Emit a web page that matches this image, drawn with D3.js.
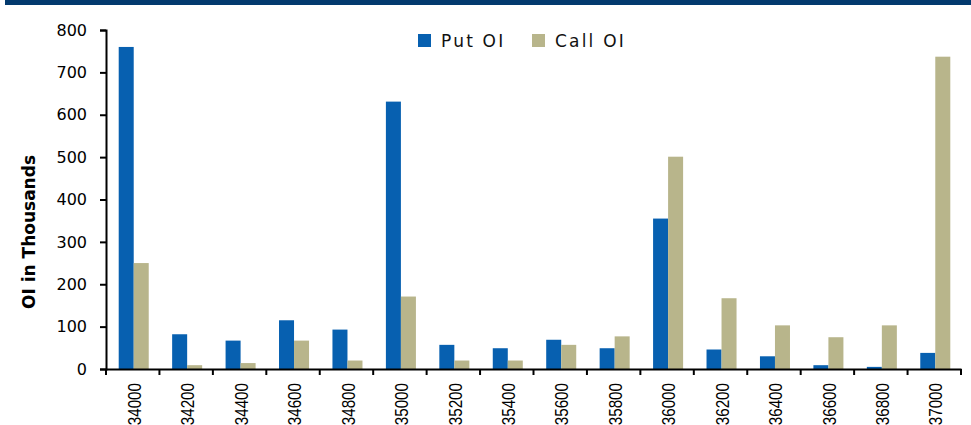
<!DOCTYPE html>
<html>
<head>
<meta charset="utf-8">
<script src="https://cdn.jsdelivr.net/npm/d3@7"></script>
<style>
  body { margin: 0; background: #fff; }
  svg { display: block; }
</style>
</head>
<body>
<svg id="chart" width="971" height="425"></svg>
<script>
// strikes on the x axis
var strikes = ["34000", "34200", "34400", "34600", "34800", "35000", "35200", "35400",
               "35600", "35800", "36000", "36200", "36400", "36600", "36800", "37000"]
// open interest, thousands
var putOI  = [760, 82, 67, 115, 93, 631, 57, 49, 69, 49, 355, 46, 30, 9, 5, 38]
var callOI = [250, 9, 14, 67, 20, 171, 20, 20, 57, 77, 501, 167, 103, 75, 103, 737]
var seriesNames = ["Put OI", "Call OI"]
var yTicks = [0, 100, 200, 300, 400, 500, 600, 700, 800]

var colors = { "Put OI": "#0760b0", "Call OI": "#b8b58b" }
var margin = { top: 30, left: 106, right: 10, bottom: 56 }
var width = 971, height = 425

var svg = d3.select("#chart")

// navy band across the top
svg.append("rect")
   .attr("x", 5).attr("y", 0)
   .attr("width", width - 5).attr("height", 5)
   .attr("fill", "#033a6e")

var rows = strikes.map((s, i) => ({ strike: s, "Put OI": putOI[i], "Call OI": callOI[i] }))

var xScale = d3.scaleBand().domain(strikes).range([margin.left, 961]).padding(0)
var xInner = d3.scaleBand().domain(seriesNames)
   .range([0, xScale.bandwidth()]).paddingInner(0).paddingOuter(0.78)
var yScale = d3.scaleLinear().domain([0, 800]).range([369, margin.top])

var g = svg.append("g")

g.selectAll("g.group")
   .data(rows)
   .join("g")
   .attr("class", "group")
   .attr("transform", d => "translate(" + (xScale(d.strike) + 1) + ",0)")
   .selectAll("rect")
   .data(d => seriesNames.map(k => ({ key: k, value: d[k] })))
   .join("rect")
   .attr("x", d => xInner(d.key))
   .attr("y", d => yScale(d.value))
   .attr("width", xInner.bandwidth())
   .attr("height", d => yScale(0) - yScale(d.value))
   .attr("fill", d => colors[d.key])

// y axis
var yAxis = d3.axisLeft(yScale).tickValues(yTicks).tickSize(6).tickPadding(13)
var yg = svg.append("g")
   .attr("transform", "translate(" + margin.left + ",0)")
   .call(yAxis)
yg.select(".domain").attr("stroke", "#000").attr("stroke-width", 2)
yg.selectAll(".tick line").attr("stroke", "#000").attr("stroke-width", 2)
yg.selectAll(".tick text")
   .attr("fill", "#000")
   .style("font-family", "'DejaVu Sans', sans-serif")
   .style("font-size", "16px")

// x axis, ticks on the band edges
var xAxis = d3.axisBottom(xScale).tickSize(0).tickPadding(0)
var xg = svg.append("g")
   .attr("transform", "translate(0,369)")
   .call(xAxis)
xg.select(".domain").attr("stroke", "#000").attr("stroke-width", 2)
xg.selectAll(".tick line").remove()
// narrow look: squeeze the rotated labels along their length
xg.selectAll(".tick text")
   .attr("fill", "#000")
   .attr("transform", "translate(1.5,0) rotate(-90) scale(0.8,1)")
   .attr("text-anchor", "end")
   .attr("x", -14 / 0.8)
   .attr("y", 0)
   .attr("dy", "0.35em")
   .style("font-family", "'Liberation Sans', Arial, sans-serif")
   .style("font-size", "19px")

xg.selectAll("line.edge")
   .data(strikes.concat(["end"]))
   .join("line")
   .attr("class", "edge")
   .attr("x1", (d, i) => i < strikes.length ? xScale(d) : xScale.range()[1])
   .attr("x2", (d, i) => i < strikes.length ? xScale(d) : xScale.range()[1])
   .attr("y1", 0).attr("y2", 6)
   .attr("stroke", "#000").attr("stroke-width", 2)

// axis title
svg.append("text")
   .attr("transform", "translate(35,232) rotate(-90)")
   .attr("text-anchor", "middle")
   .style("font-family", "'DejaVu Sans', sans-serif")
   .style("font-weight", "bold")
   .style("font-size", "17px")
   .text("OI in Thousands")

// legend
var legend = svg.append("g").attr("transform", "translate(418,34)")
var items = legend.selectAll("g")
   .data(seriesNames)
   .join("g")
   .attr("transform", (d, i) => "translate(" + (i * 114) + ",0)")
items.append("rect")
   .attr("width", 13).attr("height", 13)
   .attr("fill", d => colors[d])
items.append("text")
   .attr("x", 23).attr("y", 13)
   .style("font-family", "'DejaVu Sans', sans-serif")
   .style("font-size", "17px")
   .style("letter-spacing", "2.2px")
   .attr("fill", "#111")
   .text(d => d)
</script>
</body>
</html>
